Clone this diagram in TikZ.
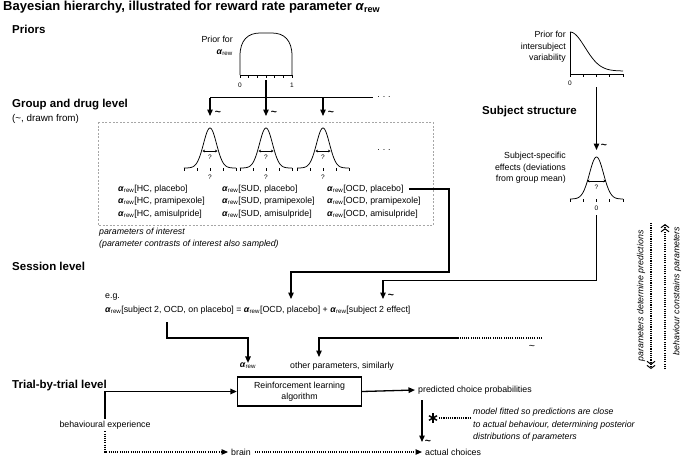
\documentclass[tikz,border=0pt]{standalone}
\usepackage{fontspec}
\setmainfont{Liberation Sans}
\usetikzlibrary{arrows.meta,calc}
\newcommand{\arew}{\textbf{\textit{α}}\textsubscript{rew}}
\newcommand{\tld}{\textbf{\textasciitilde}}
\begin{document}
\begin{tikzpicture}[x=1pt,y=-1pt,
  font=\fontsize{8.8}{11.5}\selectfont,
  every node/.style={inner sep=0pt},
  conn/.style={line width=1.3pt,-{Triangle[length=6.5pt,width=5.5pt]}},
  plainline/.style={line width=1.3pt},
  dotl/.style={line width=1.1pt,dash pattern=on 1.1pt off 1.1pt},
  gline/.style={line width=0.75pt},
  heading/.style={font=\fontsize{11.5}{13}\selectfont\bfseries,anchor=west},
  tiny/.style={font=\fontsize{6.5}{7}\selectfont},
  tilde/.style={font=\fontsize{10.5}{10}\selectfont},
  dblup/.style={line width=1.1pt,dash pattern=on 1.1pt off 1.1pt,-{Straight Barb[length=3pt,width=8pt,line width=1pt]Straight Barb[length=3pt,width=8pt,line width=1pt]}},
  lbl/.style={anchor=west}
]
\fill[white] (0,0) rectangle (683,459);
\useasboundingbox (0,0) rectangle (683,459);

% ---- headings
\node[anchor=west,font=\fontsize{13}{14}\selectfont\bfseries] (title) at (3,7.5) {Bayesian hierarchy, illustrated for reward rate parameter \arew};
\node[heading] (hpri) at (12,29) {Priors};
\node[heading] (hgrp) at (12,105) {Group and drug level};
\node[anchor=west,font=\fontsize{9.8}{11}\selectfont] (hgrp2) at (12,119) {(\textasciitilde, drawn from)};
\node[heading] (hsub) at (482,112) {Subject structure};
\node[heading] (hses) at (12,266) {Session level};
\node[heading] (htri) at (12,386) {Trial-by-trial level};

% ---- prior for alpha_rew
\node[anchor=east,align=right] (pa) at (233,46) {Prior for\\\arew};
\draw[gline] (240,75) -- (240,56) .. controls (240,40) and (248,33) .. (260,33) -- (272,33) .. controls (284,33) and (292,40) .. (292,56) -- (292,75);
\draw[gline] (240,75) -- (292,75);
\foreach \k in {0,...,6} \draw[gline] ({240+\k*52/6},75) -- ({240+\k*52/6},77.5);
\node[tiny] (pa0) at (240,85) {0};
\node[tiny] (pa1) at (292,85) {1};

% ---- group-level arrows
\coordinate (prA) at (266,80);
\coordinate (split1) at (210,97.5);
\coordinate (split3) at (323,97.5);
\coordinate (splitE) at (373,97.5);
\coordinate (gt1) at (210,116);
\coordinate (gt2) at (266,116);
\coordinate (gt3) at (323,116);
\draw[plainline] (split1) -- (splitE);
\draw[conn] (prA) -- (gt2);
\draw[conn] (split1) -- (gt1);
\draw[conn] (split3) -- (gt3);
\node[tilde] (tl1) at (218,113) {\tld};
\node[tilde] (tl2) at (274,113) {\tld};
\node[tilde] (tl3) at (331,113) {\tld};
\node (dots1) at (384,97) {.\,\,.\,\,.};

% ---- dashed box
\draw[gray!70,line width=0.9pt,dash pattern=on 2pt off 1.6pt] (98,122) rectangle (433,225.5);

% ---- group gaussians
\foreach \gc in {210,266,323}{
  \draw[gline] plot[domain=-26:26,samples=70] ({\gc+\x},{168-40*exp(-(\x*\x)/(2*6.5*6.5))});
  \foreach \t in {-26,-13,0,13,26} \draw[gline] (\gc+\t,168) -- (\gc+\t,170.5);
  \draw[line width=0.6pt,{Stealth[length=2.5pt,width=2.8pt]}-{Stealth[length=2.5pt,width=2.8pt]}] (\gc-7.5,151) -- (\gc+7.5,151);
  \node[tiny] (qi\gc) at (\gc,157.5) {?};
  \node[tiny] (qb\gc) at (\gc,177) {?};
}
\node (dots2) at (384,150) {.\,\,.\,\,.};

% ---- parameter labels
\node[lbl] (hc1) at (118,189) {\arew[HC, placebo]};
\node[lbl] (hc2) at (118,201.5) {\arew[HC, pramipexole]};
\node[lbl] (hc3) at (118,214) {\arew[HC, amisulpride]};
\node[lbl] (sd1) at (222,189) {\arew[SUD, placebo]};
\node[lbl] (sd2) at (222,201.5) {\arew[SUD, pramipexole]};
\node[lbl] (sd3) at (222,214) {\arew[SUD, amisulpride]};
\node[lbl] (oc1) at (327,189) {\arew[OCD, placebo]};
\node[lbl] (oc2) at (327,201.5) {\arew[OCD, pramipexole]};
\node[lbl] (oc3) at (327,214) {\arew[OCD, amisulpride]};
\node[anchor=north west,align=left,font=\fontsize{8.8}{11.5}\selectfont\itshape] (poi) at (99,228) {parameters of interest\\(parameter contrasts of interest also sampled)};

% ---- intersubject prior
\node[anchor=east,align=right] (pis) at (566,47) {Prior for\\intersubject\\variability};
\draw[gline] (570,74) -- (570,32);
\draw[gline] plot[domain=0:53,samples=60] ({570+\x},{71-39*exp(-(\x*\x)/(2*15*15))});
\draw[gline] (570,74) -- (623,74);
\foreach \t in {0,13.25,26.5,39.75,53} \draw[gline] (570+\t,74) -- (570+\t,76.5);
\node[tiny] (pis0) at (570,83) {0};

\coordinate (isA) at (596.5,87);
\coordinate (isB) at (596.5,150);
\draw[conn] (isA) -- (isB);
\node[tilde] (tl4) at (604,146) {\tld};

% ---- subject gaussian
\node[anchor=east,align=right] (sse) at (566,168) {Subject-specific\\effects (deviations\\from group mean)};
\draw[gline] plot[domain=-26.5:26.5,samples=70] ({596.5+\x},{199-42*exp(-(\x*\x)/(2*7*7))});
\foreach \t in {-26.5,-13.25,0,13.25,26.5} \draw[gline] (596.5+\t,199) -- (596.5+\t,201.5);
\draw[line width=0.6pt,{Stealth[length=2.5pt,width=2.8pt]}-{Stealth[length=2.5pt,width=2.8pt]}] (587,181) -- (606,181);
\node[tiny] (sq) at (596.5,187.5) {?};
\node[tiny] (s0) at (596.5,208) {0};

% ---- session level
\node[lbl] (eg) at (105,297) {e.g.};
\node[lbl] (eq) at (105,310) {\arew[subject 2, OCD, on placebo] = \arew[OCD, placebo] + \arew[subject 2 effect]};
\coordinate (eqB) at (291,299);
\coordinate (eqC) at (383,299);
\draw[conn] ($(oc1.east)+(5,0)$) -| (449,272) -| (eqB);
\coordinate (ssA) at (596.5,215);
\draw[conn] (ssA) |- (383,280.5) -- (eqC);
\node[tilde] (tl5) at (391,296) {\tld};

\node (arl) at (248,366) {\arew};
\node[lbl] (oth) at (290,366) {other parameters, similarly};
\coordinate (eqA) at (167,322);
\draw[conn] (eqA) |- (248,338) -- (arl.north);
\coordinate (oEnd) at (542,338);
\coordinate (oMid) at (458,338);
\coordinate (oTip) at (319,357);
\draw[dotl] (oEnd) -- (oMid);
\draw[conn] (oMid) -| (oTip);
\node[tilde] (tl6) at (532,347) {\textasciitilde};

% ---- trial level
\node[draw,line width=1.3pt,minimum width=124pt,minimum height=29pt,align=center] (rl) at (299.5,391.5) {Reinforcement learning\\algorithm};
\node[inner sep=2pt] (be) at (105,425) {behavioural experience};
\node[lbl] (pcp) at (418,390) {predicted choice probabilities};
\node[lbl] (ac) at (425,452) {actual choices};
\node (brain) at (241,452) {brain};
\draw[conn] (be.north) |- (rl.west);
\draw[conn] (rl.east) -- ($(pcp.west)+(-3,0)$);
\coordinate (pA) at (422,400);
\coordinate (pB) at (422,442);
\draw[conn] (pA) -- (pB);
\node[tilde] (tl7) at (428,442) {\tld};
\draw[dotl,-{Triangle[length=6.5pt,width=5.5pt]}] (be.south) |- ($(brain.west)+(-3,0)$);
\draw[dotl,-{Triangle[length=6.5pt,width=5.5pt]}] ($(brain.east)+(4,0)$) -- ($(ac.west)+(-3,0)$);
% asterisk
\coordinate (star) at (433,418);
\foreach \a in {90,30,150} \draw[line width=1.5pt] ($(star)+(\a:4.6)$) -- ($(star)+(\a+180:4.6)$);
\node[anchor=west,align=left,font=\fontsize{8.8}{12.3}\selectfont\itshape] (fit) at (473,425) {model fitted so predictions are close\\to actual behaviour, determining posterior\\distributions of parameters};
\coordinate (stE) at (439,418);
\coordinate (fitW) at (471,418);
\draw[dotl] (stE) -- (fitW);

% ---- right side
\coordinate (d1a) at (651,223);
\coordinate (d1b) at (651,369);
\coordinate (d2a) at (665,369);
\coordinate (d2b) at (665,224);
\draw[dblup] (d1a) -- (d1b);
\draw[dblup] (d2a) -- (d2b);
\node[rotate=90,font=\fontsize{8.8}{10}\selectfont\itshape] (pdp) at (641,296) {parameters determine predictions};
\node[rotate=90,font=\fontsize{8.8}{10}\selectfont\itshape] (bcp) at (677,291) {behaviour constrains parameters};
\end{tikzpicture}
\end{document}
